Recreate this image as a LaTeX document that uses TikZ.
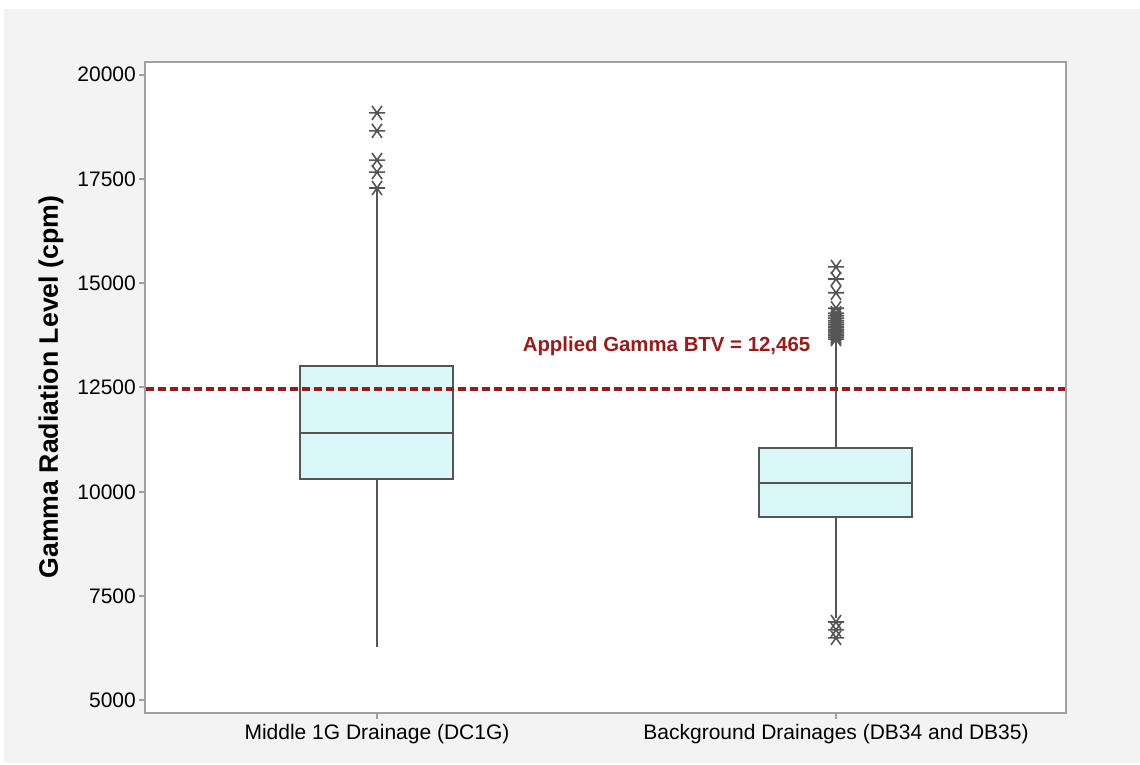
\documentclass[tikz,border=0pt]{standalone}
\usepackage{fontspec}
\setmainfont{Liberation Sans}
\usetikzlibrary{positioning}
\definecolor{PanelGray}{HTML}{F3F3F3}
\definecolor{FrameGray}{HTML}{A0A0A0}
\definecolor{BoxLine}{HTML}{555555}
\definecolor{BoxFill}{HTML}{D9F7F7}
\definecolor{BTVRed}{HTML}{9B1B1B}
\tikzset{
    % Frame and ticks
    frame line/.style={
        draw=FrameGray,
        line width=2pt
    },
    % Box plot parts
    box line/.style={
        draw=BoxLine,
        line width=2pt
    },
    box body/.style={
        box line,
        fill=BoxFill
    },
    outlier line/.style={
        draw=BoxLine,
        line width=1.6pt
    },
    outlier/.pic={
        \draw[outlier line] (-8pt,0pt) -- (8pt,0pt)
            (-5pt,-7pt) -- (5pt,7pt) (-5pt,7pt) -- (5pt,-7pt);
    },
    btv line/.style={
        draw=BTVRed,
        line width=3.5pt,
        dash pattern=on 8pt off 4pt
    },
    tick label/.style={
        font=\fontsize{21}{25}\selectfont,
        inner sep=0pt
    },
    axis title/.style={
        font=\fontsize{26.7}{30}\selectfont\bfseries,
        inner sep=0pt
    },
    btv label/.style={
        font=\fontsize{20.4}{24}\selectfont\bfseries,
        text=BTVRed,
        inner sep=0pt
    }
}

\begin{document}
\begin{tikzpicture}[x=1pt, y=41.73pt]
    \useasboundingbox (0,3.4543) rectangle (1140,21.786);

    % Panel background
    \fill[PanelGray] (4,3.502) rectangle (1140,21.571);
    \fill[white] (145,4.70) rectangle (1066,20.30);

    % Y ticks and labels
    \foreach \v/\lab in {5/5000, 7.5/7500, 10/10000, 12.5/12500, 15/15000, 17.5/17500, 20/20000} {
        \draw[frame line] (139,\v) -- (145,\v);
        \node[tick label, anchor=east] (ytick\lab) at (136,\v) {\lab};
    }

    % X ticks
    \draw[frame line] (377,4.70) -- (377,4.557);
    \draw[frame line] (836,4.70) -- (836,4.557);

    % Box 1: Middle 1G Drainage
    \draw[box line] (377,6.28) -- (377,17.28);
    \draw[box body] (300,10.308) rectangle (453,13.016);
    \draw[box line] (300,11.41) -- (453,11.41);
    \foreach \o in {17.28, 17.66, 17.95, 18.65, 19.08}
        \pic at (377,\o) {outlier};

    % Box 2: Background Drainages
    \draw[box line] (836,6.977) -- (836,13.64);
    \draw[box body] (759,9.397) rectangle (912,11.051);
    \draw[box line] (759,10.212) -- (912,10.212);
    \foreach \o in {13.66, 13.70, 13.74, 13.78, 13.82, 13.86, 13.90, 13.95, 14.00, 14.05, 14.10, 14.16, 14.22, 14.28, 14.40, 14.77, 15.10, 15.39}
        \pic at (836,\o) {outlier};
    \foreach \o in {6.50, 6.69, 6.88}
        \pic at (836,\o) {outlier};

    % Applied BTV
    \draw[btv line] (146,12.465) -- (1066,12.465);
    \node[btv label, anchor=base] (btv) at (666.5,13.351) {Applied Gamma BTV = 12,465};

    % Plot frame
    \draw[frame line] (145,4.70) rectangle (1066,20.30);

    % Axis labels
    \node[tick label, anchor=base] (xlabel1) at (377,4.053) {Middle 1G Drainage (DC1G)};
    \node[tick label, anchor=base] (xlabel2) at (836,4.053) {Background Drainages (DB34 and DB35)};
    \node[axis title, rotate=90] (ytitle) at (51,12.51) {Gamma Radiation Level (cpm)};
\end{tikzpicture}
\end{document}
